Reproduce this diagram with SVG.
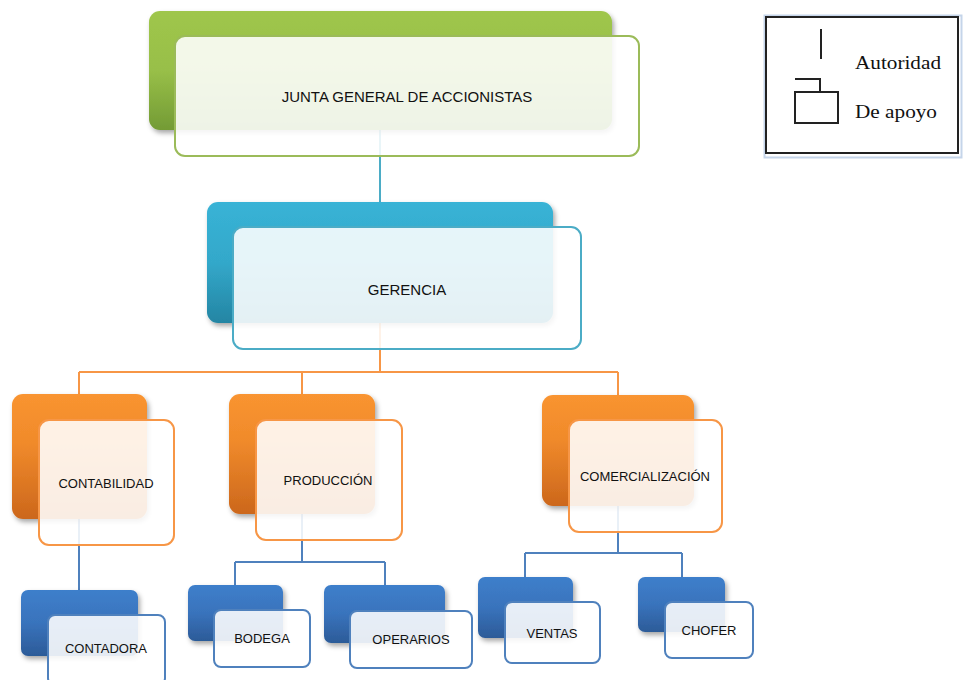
<svg xmlns="http://www.w3.org/2000/svg" width="966" height="680" viewBox="0 0 966 680">
<defs>
<linearGradient id="gGreen" x1="0" y1="0" x2="0" y2="1"><stop offset="0" stop-color="#9fc64c"/><stop offset="0.5" stop-color="#98bf48"/><stop offset="1" stop-color="#739b35"/></linearGradient>
<linearGradient id="gTeal" x1="0" y1="0" x2="0" y2="1"><stop offset="0" stop-color="#38b3d6"/><stop offset="0.5" stop-color="#33a8ca"/><stop offset="1" stop-color="#2485a3"/></linearGradient>
<linearGradient id="gOrange" x1="0" y1="0" x2="0" y2="1"><stop offset="0" stop-color="#f99430"/><stop offset="0.4" stop-color="#f08a2b"/><stop offset="1" stop-color="#cc671c"/></linearGradient>
<linearGradient id="gBlue" x1="0" y1="0" x2="0" y2="1"><stop offset="0" stop-color="#3e7fcb"/><stop offset="0.5" stop-color="#3973bc"/><stop offset="1" stop-color="#2c5b98"/></linearGradient>
<filter id="sh" x="-10%" y="-10%" width="125%" height="130%"><feDropShadow dx="2" dy="3" stdDeviation="2.5" flood-color="#000" flood-opacity="0.35"/></filter>
</defs>
<style>
.front{fill:#ffffff;fill-opacity:0.88;stroke-width:2}
.g{stroke:#9bbb59}.t{stroke:#4bacc6}.o{stroke:#f79646}.b{stroke:#4f81bd}
.lbl{font-family:"Liberation Sans",Arial,sans-serif;fill:#111;text-anchor:middle}
.big{font-size:15px}.sm{font-size:13px}
.c{fill:none;stroke-width:2}
.leg{font-family:"Liberation Serif","Times New Roman",serif;font-size:19px;fill:#111}
</style>
<g id="connectors">
<line class="c" x1="380" y1="130" x2="380" y2="202" stroke="#4bacc6"/>
<path class="c" d="M380 323V372M79 372H618M79 372V395M302 372V395M618 372V395" stroke="#f79646"/>
<path class="c" d="M79 519V590" stroke="#4f81bd"/>
<path class="c" d="M302 514V562M235 562H385M235 562V585M385 562V585" stroke="#4f81bd"/>
<path class="c" d="M618 506V553M525 553H682M525 553V577M682 553V577" stroke="#4f81bd"/>
</g>
<g id="junta">
<rect x="149" y="11" width="463" height="119" rx="11" fill="url(#gGreen)" filter="url(#sh)"/>
<rect class="front g" x="175" y="36" width="464" height="120" rx="10"/>
<text class="lbl big" x="407" y="102">JUNTA GENERAL DE ACCIONISTAS</text>
</g>
<g id="gerencia">
<rect x="207" y="202" width="346" height="121" rx="11" fill="url(#gTeal)" filter="url(#sh)"/>
<rect class="front t" x="233" y="227" width="348" height="122" rx="10"/>
<text class="lbl big" x="407" y="295">GERENCIA</text>
</g>
<g id="contabilidad">
<rect x="12" y="394" width="135" height="125" rx="11" fill="url(#gOrange)" filter="url(#sh)"/>
<rect class="front o" x="39" y="420" width="135" height="125" rx="10"/>
<text class="lbl sm" x="106" y="488">CONTABILIDAD</text>
</g>
<g id="produccion">
<rect x="229" y="394" width="146" height="120" rx="11" fill="url(#gOrange)" filter="url(#sh)"/>
<rect class="front o" x="256" y="420" width="146" height="120" rx="10"/>
<text class="lbl sm" x="328" y="485">PRODUCCIÓN</text>
</g>
<g id="comercializacion">
<rect x="542" y="395" width="152" height="111" rx="11" fill="url(#gOrange)" filter="url(#sh)"/>
<rect class="front o" x="569" y="420" width="153" height="112" rx="10"/>
<text class="lbl sm" x="645" y="481">COMERCIALIZACIÓN</text>
</g>
<g id="contadora">
<rect x="21" y="590" width="117" height="66" rx="7" fill="url(#gBlue)" filter="url(#sh)"/>
<rect class="front b" x="48" y="615" width="117" height="70" rx="7"/>
<text class="lbl sm" x="106" y="653">CONTADORA</text>
</g>
<g id="bodega">
<rect x="188" y="585" width="95" height="56" rx="7" fill="url(#gBlue)" filter="url(#sh)"/>
<rect class="front b" x="214" y="610" width="96" height="57" rx="7"/>
<text class="lbl sm" x="262" y="643">BODEGA</text>
</g>
<g id="operarios">
<rect x="324" y="585" width="121" height="58" rx="7" fill="url(#gBlue)" filter="url(#sh)"/>
<rect class="front b" x="350" y="611" width="122" height="57" rx="7"/>
<text class="lbl sm" x="411" y="644">OPERARIOS</text>
</g>
<g id="ventas">
<rect x="478" y="577" width="95" height="61" rx="7" fill="url(#gBlue)" filter="url(#sh)"/>
<rect class="front b" x="505" y="602" width="95" height="61" rx="7"/>
<text class="lbl sm" x="552" y="638">VENTAS</text>
</g>
<g id="chofer">
<rect x="638" y="577" width="87" height="55" rx="7" fill="url(#gBlue)" filter="url(#sh)"/>
<rect class="front b" x="665" y="602" width="88" height="56" rx="7"/>
<text class="lbl sm" x="709" y="635">CHOFER</text>
</g>
<g id="legend">
<rect x="764.5" y="15.5" width="197" height="142" fill="none" stroke="#c5d5ea" stroke-width="2"/>
<rect x="766" y="17" width="192" height="136" fill="#fff" stroke="#222" stroke-width="2"/>
<line x1="821" y1="29" x2="821" y2="59" stroke="#222" stroke-width="2"/>
<path d="M795 79H820V92" fill="none" stroke="#222" stroke-width="2"/>
<rect x="795" y="92" width="43" height="31" fill="none" stroke="#222" stroke-width="2"/>
<text class="leg" x="855" y="69" textLength="86" lengthAdjust="spacingAndGlyphs">Autoridad</text>
<text class="leg" x="855" y="118" textLength="82" lengthAdjust="spacingAndGlyphs">De apoyo</text>
</g>
</svg>
